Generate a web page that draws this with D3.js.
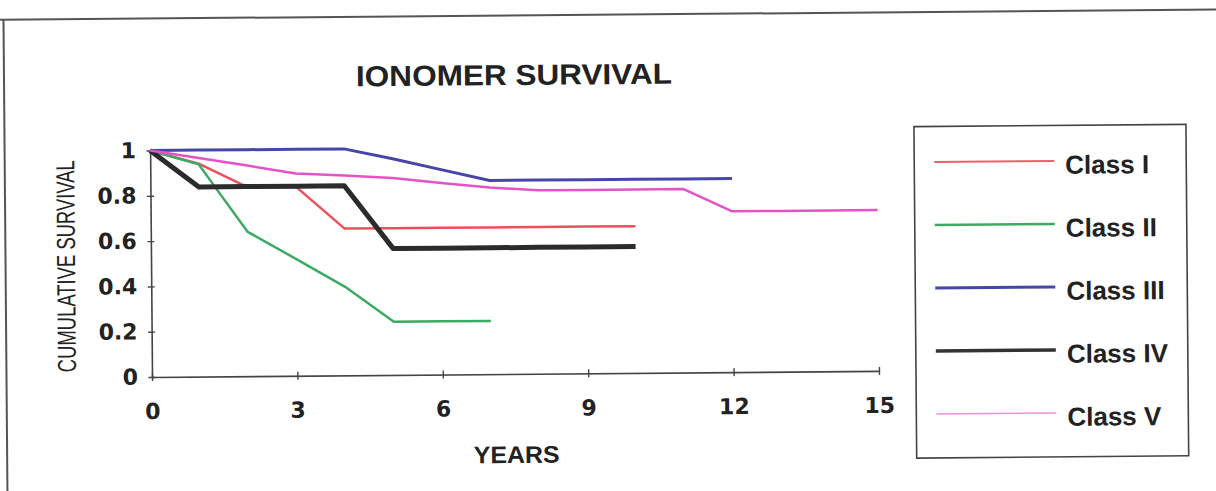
<!DOCTYPE html>
<html>
<head>
<meta charset="utf-8">
<script src="https://cdn.jsdelivr.net/npm/d3@7"></script>
<style>
  html, body { margin: 0; padding: 0; background: #fff; }
  svg { display: block; }
</style>
</head>
<body>
<div id="chart"></div>
<script>
// Cumulative survival of ionomer restorations by cavity class
const classNames = ["Class I", "Class II", "Class III", "Class IV", "Class V"];

const yearsI   = [0, 1, 2, 3, 4, 5, 6, 7, 8, 9, 10];
const survI    = [1, 0.94, 0.835, 0.835, 0.648, 0.648, 0.648, 0.648, 0.648, 0.648, 0.648];

const yearsII  = [0, 1, 2, 3, 4, 5, 6, 7];
const survII   = [1, 0.937, 0.637, 0.515, 0.391, 0.235, 0.235, 0.235];

const yearsIII = [0, 1, 2, 3, 4, 5, 6, 7, 8, 9, 10, 11, 12];
const survIII  = [1, 1, 1, 1, 1, 0.955, 0.905, 0.855, 0.855, 0.855, 0.855, 0.855, 0.855];

const yearsIV  = [0, 1, 2, 3, 4, 5, 6, 7, 8, 9, 10];
const survIV   = [1, 0.837, 0.837, 0.837, 0.837, 0.558, 0.558, 0.558, 0.558, 0.558, 0.558];

const yearsV   = [0, 1, 2, 3, 4, 5, 6, 7, 8, 9, 10, 11, 12, 13, 14, 15];
const survV    = [1, 0.965, 0.93, 0.893, 0.883, 0.87, 0.846, 0.824, 0.81, 0.81, 0.81, 0.81, 0.71, 0.71, 0.71, 0.71];

const xTickValues = [0, 3, 6, 9, 12, 15];
const yTickValues = [0, 0.2, 0.4, 0.6, 0.8, 1];
const yTickLabels = ["0", "0.2", "0.4", "0.6", "0.8", "1"];

const seriesYears = [yearsI, yearsII, yearsIII, yearsIV, yearsV];
const seriesSurv  = [survI, survII, survIII, survIV, survV];

const lineColors   = ["#ee4f5c", "#3caa62", "#4646aa", "#2b2b2b", "#e552c8"];
const lineWidths   = [2.5, 2.5, 3, 5, 2.5];
const legendColors = ["#f0606a", "#3caa62", "#4646aa", "#333333", "#f08ee0"];
const legendWidths = [2, 2.5, 3, 3.5, 1.6];

const W = 1216, H = 491;
const svg = d3.select("#chart").append("svg")
  .attr("width", W).attr("height", H);

// whole sheet sits at a slight tilt, pivoting on the plot origin
const root = svg.append("g").attr("transform", "rotate(-0.48,152,377)");

const x = d3.scaleLinear().domain([0, 15]).range([152, 879]);
const y = d3.scaleLinear().domain([0, 1]).range([377, 150.5]);

// outer frame (top and left edges)
root.append("line").attr("x1", -10).attr("x2", 1240).attr("y1", 18.5).attr("y2", 18.5)
  .attr("stroke", "#555").attr("stroke-width", 2);
root.append("line").attr("x1", 6.5).attr("x2", 6.5).attr("y1", 18.5).attr("y2", 520)
  .attr("stroke", "#555").attr("stroke-width", 2);

// title
root.append("text")
  .attr("x", 516.5).attr("y", 88)
  .attr("text-anchor", "middle")
  .attr("font-family", "Liberation Sans, Arial, sans-serif")
  .attr("font-weight", "bold")
  .attr("font-size", 29)
  .attr("textLength", 316)
  .attr("lengthAdjust", "spacingAndGlyphs")
  .attr("fill", "#222")
  .text("IONOMER SURVIVAL");

// axes
const xAxis = d3.axisBottom(x).tickValues(xTickValues).tickSize(0).tickPadding(0)
  .tickFormat(d3.format("d"));
const gx = root.append("g").attr("transform", `translate(0,${y(0)})`).call(xAxis);
gx.select(".domain").attr("stroke", "#444").attr("stroke-width", 1.6);
gx.selectAll(".tick line").attr("y1", -4).attr("y2", 4).attr("stroke", "#444").attr("stroke-width", 1.4);
gx.selectAll(".tick text")
  .attr("y", 42).attr("dy", null)
  .attr("font-family", "DejaVu Sans, sans-serif")
  .attr("font-weight", "bold")
  .attr("font-size", 22)
  .attr("fill", "#222");

const yAxis = d3.axisLeft(y).tickValues(yTickValues).tickSize(0).tickPadding(0)
  .tickFormat((d, i) => yTickLabels[i]);
const gy = root.append("g").attr("transform", `translate(${x(0)},0)`).call(yAxis);
gy.select(".domain").attr("stroke", "#444").attr("stroke-width", 1.6);
gy.selectAll(".tick line").attr("x1", -3.5).attr("x2", 3.5).attr("stroke", "#444").attr("stroke-width", 1.4);
gy.selectAll(".tick text")
  .attr("x", -14)
  .attr("font-family", "DejaVu Sans, sans-serif")
  .attr("font-weight", "bold")
  .attr("font-size", 22)
  .attr("fill", "#222");
root.selectAll(".domain").attr("fill", "none");

// axis titles
root.append("text")
  .attr("transform", "translate(76,265.5) rotate(-90)")
  .attr("text-anchor", "middle")
  .attr("font-family", "Liberation Sans, Arial, sans-serif")
  .attr("font-size", 26)
  .attr("textLength", 212)
  .attr("lengthAdjust", "spacingAndGlyphs")
  .attr("fill", "#222")
  .text("CUMULATIVE SURVIVAL");

root.append("text")
  .attr("x", 516).attr("y", 466)
  .attr("text-anchor", "middle")
  .attr("font-family", "Liberation Sans, Arial, sans-serif")
  .attr("font-weight", "bold")
  .attr("font-size", 24)
  .attr("textLength", 86)
  .attr("lengthAdjust", "spacingAndGlyphs")
  .attr("fill", "#222")
  .text("YEARS");

// survival curves
const line = d3.line().x(d => x(d[0])).y(d => y(d[1]));
classNames.forEach((name, i) => {
  const pts = seriesYears[i].map((yr, j) => [yr, seriesSurv[i][j]]);
  root.append("path")
    .datum(pts)
    .attr("d", line)
    .attr("fill", "none")
    .attr("stroke", lineColors[i])
    .attr("stroke-width", lineWidths[i])
    .attr("stroke-linejoin", "round");
});

// legend
const lg = root.append("g");
lg.append("rect")
  .attr("x", 916).attr("y", 133).attr("width", 272).attr("height", 331.5)
  .attr("fill", "none").attr("stroke", "#444").attr("stroke-width", 1.6);
classNames.forEach((name, i) => {
  const cy = 168.5 + i * 63;
  lg.append("line")
    .attr("x1", 936).attr("x2", 1056).attr("y1", cy).attr("y2", cy)
    .attr("stroke", legendColors[i]).attr("stroke-width", legendWidths[i]);
  lg.append("text")
    .attr("x", 1067).attr("y", cy + 13)
    .attr("font-family", "Liberation Sans, Arial, sans-serif")
    .attr("font-weight", "bold")
    .attr("font-size", 26)
    .attr("fill", "#222")
    .text(name);
});
</script>
</body>
</html>
